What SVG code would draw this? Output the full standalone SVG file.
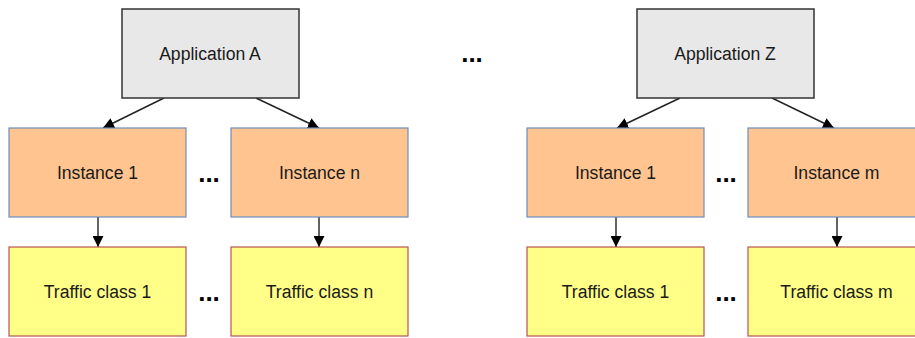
<svg xmlns="http://www.w3.org/2000/svg" width="915" height="338" viewBox="0 0 915 338">
  <style>
    .app { fill: #e8e8e8; stroke: #333333; stroke-width: 1.5; }
    .inst { fill: #ffc48f; stroke: #6c8ebf; stroke-width: 1.2; }
    .tc { fill: #ffff88; stroke: #b85450; stroke-width: 1.2; }
    .lbl { font-family: "Liberation Sans", Arial, sans-serif; font-size: 17.6px; fill: #1a1a1a; text-anchor: middle; }
    .dots { font-family: "Liberation Sans", Arial, sans-serif; font-size: 26px; font-weight: bold; fill: #000000; text-anchor: middle; }
    .edge { stroke: #222222; stroke-width: 1.4; fill: none; marker-end: url(#arrow); }
  </style>
  <defs>
    <marker id="arrow" viewBox="0 0 10 10" refX="10" refY="5" markerWidth="11" markerHeight="11" markerUnits="userSpaceOnUse" orient="auto">
      <path d="M0,0 L10,5 L0,10 Z" fill="#000000"/>
    </marker>
  </defs>
  <rect width="915" height="338" fill="#ffffff"/>

  <!-- connectors -->
  <g id="connectors">
    <line class="edge" x1="164" y1="98" x2="103" y2="128"/>
    <line class="edge" x1="256" y1="98" x2="319" y2="128"/>
    <line class="edge" x1="680" y1="98" x2="617" y2="128"/>
    <line class="edge" x1="772" y1="98" x2="834" y2="128"/>
    <line class="edge" x1="98" y1="217" x2="98" y2="247"/>
    <line class="edge" x1="319" y1="217" x2="319" y2="247"/>
    <line class="edge" x1="616" y1="217" x2="616" y2="247"/>
    <line class="edge" x1="837" y1="217" x2="837" y2="247"/>
  </g>

  <!-- applications -->
  <g id="app-a">
    <rect class="app" x="122" y="9" width="177" height="89"/>
    <text class="lbl" x="210" y="60">Application A</text>
  </g>
  <g id="app-z">
    <rect class="app" x="637" y="9" width="177" height="89"/>
    <text class="lbl" x="725" y="60">Application Z</text>
  </g>

  <!-- instances -->
  <g id="inst-a1">
    <rect class="inst" x="9" y="128" width="177" height="89"/>
    <text class="lbl" x="97.5" y="179">Instance 1</text>
  </g>
  <g id="inst-an">
    <rect class="inst" x="231" y="128" width="177" height="89"/>
    <text class="lbl" x="319.5" y="179">Instance n</text>
  </g>
  <g id="inst-z1">
    <rect class="inst" x="527" y="128" width="177" height="89"/>
    <text class="lbl" x="615.5" y="179">Instance 1</text>
  </g>
  <g id="inst-zm">
    <rect class="inst" x="748" y="128" width="177" height="89"/>
    <text class="lbl" x="836.5" y="179">Instance m</text>
  </g>

  <!-- traffic classes -->
  <g id="tc-a1">
    <rect class="tc" x="9" y="247" width="177" height="89"/>
    <text class="lbl" x="97.5" y="298">Traffic class 1</text>
  </g>
  <g id="tc-an">
    <rect class="tc" x="231" y="247" width="177" height="89"/>
    <text class="lbl" x="319.5" y="298">Traffic class n</text>
  </g>
  <g id="tc-z1">
    <rect class="tc" x="527" y="247" width="177" height="89"/>
    <text class="lbl" x="615.5" y="298">Traffic class 1</text>
  </g>
  <g id="tc-zm">
    <rect class="tc" x="748" y="247" width="177" height="89"/>
    <text class="lbl" x="836.5" y="298">Traffic class m</text>
  </g>

  <!-- ellipses -->
  <g id="ellipses">
    <text class="dots" x="472" y="62">...</text>
    <text class="dots" x="209" y="182">...</text>
    <text class="dots" x="209" y="301">...</text>
    <text class="dots" x="726" y="182">...</text>
    <text class="dots" x="726" y="301">...</text>
  </g>
</svg>
